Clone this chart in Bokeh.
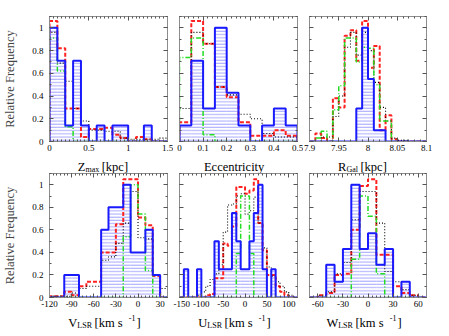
import numpy as np
from bokeh.plotting import figure
from bokeh.models import LinearAxis, SingleIntervalTicker, CustomJSTickFormatter, Label, Range1d
from bokeh.layouts import column, row
from bokeh.embed import file_html
from bokeh.resources import INLINE

# ---------------- data (relative frequencies per bin) ----------------
# Z_max [kpc], bins of 0.1 from 0 to 1.5
zmax_start, zmax_step = 0.0, 0.1
zmax_blue  = [1.0, 0.71, 0.14, 0.71, 0.14, 0.0, 0.14, 0.0, 0.14, 0.14, 0.0, 0.0, 0.14, 0.0, 0.0]
zmax_red   = [1.06, 0.82, 0.29, 0.29, 0.04, 0.11, 0.11, 0.12, 0.06, 0.03, 0.0, 0.04, 0.02, 0.0, 0.0]
zmax_black = [0.96, 0.69, 0.53, 0.29, 0.18, 0.10, 0.10, 0.09, 0.09, 0.03, 0.02, 0.02, 0.02, 0.02, 0.03]
zmax_green = [0.91, 0.62, 0.13, 0.0, 0.0, 0.0, 0.0, 0.0, 0.0, 0.0, 0.0, 0.0, 0.0, 0.0, 0.0]

# Eccentricity, bins of 0.05 from 0 to 0.5
ecc_start, ecc_step = 0.0, 0.05
ecc_blue  = [0.14, 0.71, 0.29, 1.0, 0.43, 0.14, 0.0, 0.14, 0.29, 0.14]
ecc_red   = [0.17, 1.06, 0.86, 0.48, 0.39, 0.17, 0.05, 0.05, 0.10, 0.05]
ecc_black = [0.29, 0.96, 0.86, 0.48, 0.41, 0.24, 0.20, 0.07, 0.04, 0.04]
ecc_green = [0.74, 0.91, 0.06, 0.0, 0.0, 0.0, 0.0, 0.0, 0.0, 0.0]

# R_Gal [kpc], bins of 0.01 from 7.9 to 8.1
rgal_start, rgal_step = 7.9, 0.01
rgal_blue  = [0, 0, 0, 0, 0, 0, 0, 0, 0.29, 1.0, 0.55, 0.10, 0.10, 0, 0, 0, 0, 0, 0, 0]
rgal_red   = [0, 0.07, 0.03, 0, 0.38, 0.30, 0.93, 0.98, 0.71, 1.06, 0.65, 0.84, 0.10, 0.23, 0.02, 0, 0, 0, 0, 0]
rgal_black = [0, 0, 0.04, 0.04, 0.22, 0.40, 0.83, 0.96, 0.76, 0.96, 0.80, 0.52, 0.30, 0.18, 0.03, 0.01, 0.01, 0, 0, 0]
rgal_green = [0, 0.03, 0.09, 0, 0.28, 0.49, 0.91, 0.91, 0.70, 0.83, 0.82, 0.50, 0.18, 0.18, 0, 0, 0, 0, 0, 0]

# V_LSR [km/s], bins of 10 from -120 to 40
v_start, v_step = -120, 10
v_blue  = [0, 0, 0.2, 0.2, 0, 0, 0, 0.6, 0.8, 0.8, 1.0, 0.4, 0.4, 0.6, 0.2, 0]
v_red   = [0.01, 0.01, 0.05, 0.02, 0.10, 0.14, 0.14, 0.40, 0.40, 0.65, 1.05, 1.05, 0.71, 0.64, 0.19, 0]
v_black = [0.01, 0.01, 0.01, 0.04, 0.08, 0.10, 0.10, 0.33, 0.36, 0.48, 0.66, 0.94, 0.53, 0.52, 0.20, 0.08]
v_green = [0, 0, 0, 0, 0, 0, 0, 0, 0, 0, 0.54, 1.0, 0.74, 0.24, 0, 0]

# U_LSR [km/s], bins of 10 from -150 to 120
u_start, u_step = -150, 10
u_blue  = [0, 0.25, 0, 0, 0.25, 0, 0, 0, 0.5, 0.25, 0.25, 0.25, 0.75, 0.5, 0.25, 0.25, 0.5, 0.75, 1.0, 0.25, 0, 0.25, 0, 0, 0, 0, 0]
u_red   = [0, 0, 0, 0, 0, 0, 0.02, 0.03, 0.17, 0.17, 0.48, 0.46, 0.63, 0.98, 0.98, 0.92, 0.95, 1.05, 0.66, 0.42, 0.20, 0.20, 0.10, 0.05, 0.02, 0, 0]
u_black = [0, 0, 0, 0, 0.02, 0.05, 0.10, 0.16, 0.21, 0.29, 0.58, 0.82, 0.83, 0.90, 0.92, 0.74, 0.77, 0.89, 0.66, 0.44, 0.27, 0.19, 0.14, 0.10, 0.05, 0.02, 0]
u_green = [0, 0, 0, 0, 0, 0, 0, 0, 0, 0, 0, 0, 0, 0.39, 0.9, 0.9, 0.39, 0, 0, 0, 0, 0, 0, 0, 0, 0, 0]

# W_LSR [km/s], bins of 10 from -70 to 70
w_start, w_step = -70, 10
w_blue  = [0, 0, 0.29, 0.14, 0.43, 1.0, 0.43, 0.57, 0.29, 0.43, 0, 0.14, 0, 0]
w_red   = [0, 0.02, 0.04, 0.20, 0.21, 0.60, 0.99, 1.05, 0.38, 0.38, 0.10, 0.04, 0.02, 0]
w_black = [0, 0.02, 0.05, 0.21, 0.31, 0.69, 0.94, 0.94, 0.66, 0.23, 0.14, 0.07, 0.02, 0]
w_green = [0, 0, 0, 0, 0, 0.34, 0.9, 0.72, 0.21, 0, 0, 0, 0, 0]

y_label = "Relative Frequency"

# ---------------- styling ----------------
SERIF = "Liberation Serif"
LAB_SIZE = 12.5
SUB_SIZE = 8.0
STRIP_H = 20
TIMES = {'Z': 611, 'a': 444, 'm': 778, 'x': 500, ' ': 250, '[': 333, 'k': 500, 'p': 500,
         'c': 444, ']': 333, 'E': 611, 'n': 500, 't': 278, 'r': 333, 'i': 278, 'y': 500,
         'R': 667, 'G': 722, 'l': 278, 'V': 722, 'L': 611, 'S': 556, 'U': 722, 'W': 944,
         's': 389, '-': 333, '1': 500}

fmt = CustomJSTickFormatter(code="return String(parseFloat(tick.toFixed(6)));")


def text_w(s, size):
    return sum(TIMES.get(c, 500) for c in s) * size / 1000.0


def edges_of(start, step, n):
    return start + step * np.arange(n + 1)


def step_xy(edges, vals):
    xs, ys = [edges[0]], [0.0]
    for i, v in enumerate(vals):
        xs += [edges[i], edges[i + 1]]
        ys += [v, v]
    xs.append(edges[-1])
    ys.append(0.0)
    return xs, ys


def panel(start, step, blue, red, black, green, xr, x_int, x_minor,
          frame_w, frame_h, left_border, right_border, top_border, show_y):
    p = figure(frame_width=frame_w, frame_height=frame_h, title=None,
               x_range=Range1d(*xr), y_range=Range1d(0, 1.1),
               x_axis_location=None, y_axis_location=None,
               output_backend="svg", toolbar_location=None,
               min_border_left=left_border, min_border_right=right_border,
               min_border_top=top_border, min_border_bottom=12)
    p.grid.visible = False
    p.outline_line_color = "#8c8c8c"
    p.outline_line_width = 1
    p.background_fill_color = "white"
    p.border_fill_color = "white"

    for loc in ["below", "above", "left", "right"]:
        if loc in ("below", "above"):
            ticker = SingleIntervalTicker(interval=x_int, num_minor_ticks=x_minor)
        else:
            ticker = SingleIntervalTicker(interval=0.2, num_minor_ticks=2)
        ax = LinearAxis(ticker=ticker, formatter=fmt)
        ax.major_tick_in = 4
        ax.major_tick_out = 0
        ax.minor_tick_in = 2
        ax.minor_tick_out = 0
        ax.axis_line_color = "#8c8c8c"
        ax.major_tick_line_color = "#555555"
        ax.minor_tick_line_color = "#555555"
        ax.major_label_text_font = SERIF
        ax.major_label_text_font_size = "9px"
        ax.major_label_text_color = "black"
        visible = loc == "below" or (loc == "left" and show_y)
        if not visible:
            ax.major_label_text_color = None
            ax.major_label_text_font_size = "1px"
            ax.major_label_standoff = 0
        else:
            ax.major_label_standoff = 3 if loc == "below" else 6
        if loc == "left" and show_y:
            ax.axis_label = y_label
            ax.axis_label_text_font = SERIF
            ax.axis_label_text_font_size = f"{LAB_SIZE}px"
            ax.axis_label_text_font_style = "normal"
            ax.axis_label_standoff = 12
        p.add_layout(ax, loc)

    edges = edges_of(start, step, len(blue))
    p.quad(left=edges[:-1], right=edges[1:], bottom=0, top=blue,
           fill_alpha=0, line_alpha=0, hatch_pattern="horizontal_line",
           hatch_color="#a6a6ff", hatch_scale=3.2, hatch_weight=1)
    xs, ys = step_xy(edges, red)
    p.line(xs, ys, line_color="#ff2020", line_width=2, line_dash="4 2")
    xs, ys = step_xy(edges, black)
    p.line(xs, ys, line_color="black", line_width=1.1, line_dash="1 2")
    xs, ys = step_xy(edges, green)
    p.line(xs, ys, line_color="#22dd22", line_width=1.5, line_dash="5 2 1 2")
    xs, ys = step_xy(edges, blue)
    p.line(xs, ys, line_color="#1a1aff", line_width=2)
    return p


def label_strip(parts, frame_w, left_border, right_border):
    """A thin figure under a panel carrying its x-axis title (with sub/superscripts)."""
    s = figure(frame_width=frame_w, frame_height=STRIP_H, title=None,
               x_range=Range1d(0, 1), y_range=Range1d(0, 1),
               x_axis_location=None, y_axis_location=None,
               output_backend="svg", toolbar_location=None,
               min_border_left=left_border, min_border_right=right_border,
               min_border_top=0, min_border_bottom=0)
    s.grid.visible = False
    s.outline_line_color = None
    s.background_fill_color = "white"
    s.border_fill_color = "white"
    sizes = {"n": LAB_SIZE, "sub": SUB_SIZE, "sup": SUB_SIZE}
    dys = {"n": 0, "sub": -2.5, "sup": 5}
    gaps = {"n": 0, "sub": 2.5, "sup": 1}
    total = sum(text_w(t, sizes[k]) + gaps[k] for t, k in parts)
    x = frame_w / 2 - total / 2
    for t, k in parts:
        s.add_layout(Label(x=x, y=7 + dys[k], x_units="screen", y_units="screen",
                           text=t, text_font=SERIF, text_font_size=f"{sizes[k]}px",
                           text_align="left", text_baseline="alphabetic", text_color="black"))
        x += text_w(t, sizes[k]) + gaps[k]
    return s


LB1, FW, RB = 45, 118, 6

p1 = panel(zmax_start, zmax_step, zmax_blue, zmax_red, zmax_black, zmax_green, (0, 1.5), 0.5, 10,
           FW, 125, LB1, RB, 16, True)
p2 = panel(ecc_start, ecc_step, ecc_blue, ecc_red, ecc_black, ecc_green, (0, 0.5), 0.1, 5,
           FW, 125, 6, RB, 16, False)
p3 = panel(rgal_start, rgal_step, rgal_blue, rgal_red, rgal_black, rgal_green, (7.9, 8.1), 0.05, 5,
           FW - 1, 125, 6, RB, 16, False)
p4 = panel(v_start, v_step, v_blue, v_red, v_black, v_green, (-120, 40), 30, 6,
           FW, 124, LB1, RB, 0, True)
p5 = panel(u_start, u_step, u_blue, u_red, u_black, u_green, (-150, 120), 50, 5,
           FW, 124, 6, RB, 0, False)
p6 = panel(w_start, w_step, w_blue, w_red, w_black, w_green, (-70, 70), 30, 6,
           FW - 1, 124, 6, RB, 0, False)

s1 = label_strip([("Z", "n"), ("max", "sub"), (" [kpc]", "n")], FW, LB1, RB)
s2 = label_strip([("Eccentricity", "n")], FW, 6, RB)
s3 = label_strip([("R", "n"), ("Gal", "sub"), (" [kpc]", "n")], FW - 1, 6, RB)
s4 = label_strip([("V", "n"), ("LSR", "sub"), (" [km  s", "n"), ("-1", "sup"), ("]", "n")], FW, LB1, RB)
s5 = label_strip([("U", "n"), ("LSR", "sub"), (" [km  s", "n"), ("-1", "sup"), ("]", "n")], FW, 6, RB)
s6 = label_strip([("W", "n"), ("LSR", "sub"), (" [km  s", "n"), ("-1", "sup"), ("]", "n")], FW - 1, 6, RB)

p = column(row(p1, p2, p3), row(s1, s2, s3), row(p4, p5, p6), row(s4, s5, s6))
open("out.html", "w").write(file_html(p, INLINE))
